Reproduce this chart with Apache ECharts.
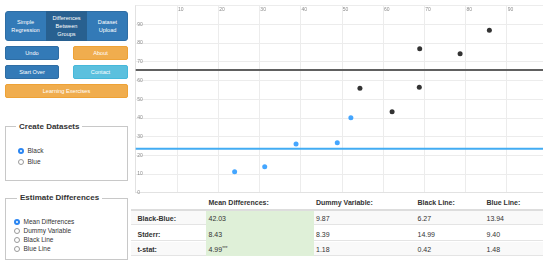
<!DOCTYPE html>
<html>
<head>
<meta charset="utf-8">
<script src="https://cdn.jsdelivr.net/npm/echarts@6/dist/echarts.min.js"></script>
<style>
html,body{margin:0;padding:0;background:#fff;overflow:hidden;width:543px;height:269px;font-family:"Liberation Sans",Arial,Helvetica,sans-serif;}
.abs{position:absolute;box-sizing:border-box;}
.btn{position:absolute;box-sizing:border-box;color:#fff;font-size:5.6px;text-align:center;display:flex;align-items:center;justify-content:center;border-radius:2px;line-height:8px;}
.pri{background:#337ab7;border:1px solid #2e6da4;}
.warn{background:#f0ad4e;border:1px solid #eea236;}
.info{background:#5bc0de;border:1px solid #46b8da;}
.fs{position:absolute;box-sizing:border-box;border:1px solid #c8c8c8;}
.lg{position:absolute;background:#fff;font-weight:bold;font-size:8px;color:#333;padding:0 3px;line-height:10px;}
.rad{position:absolute;width:6px;height:6px;border-radius:50%;box-sizing:border-box;}
.on{background:#2b86f2;}
.on::after{content:"";position:absolute;left:2px;top:2px;width:2px;height:2px;border-radius:50%;background:#fff;}
.off{border:1px solid #9a9a9a;background:#fff;}
.rl{position:absolute;font-size:6.5px;color:#333;line-height:8px;}
.cell{position:absolute;font-size:7px;color:#333;line-height:10px;white-space:nowrap;}
.sup{font-size:4.5px;position:relative;top:-2px;line-height:0;}
</style>
</head>
<body>
<div id="ui"></div>
<div id="chart" class="abs" style="left:130px;top:0px;width:425px;height:196px;"></div>
<div id="tbl"></div>
<script>
// ---- data ----
const blackX = [54.4, 62.2, 68.8, 68.9, 78.7, 85.8];
const blackY = [55.8, 43.3, 56.3, 77.0, 74.3, 86.8];
const blueX = [24.0, 31.3, 38.9, 48.9, 52.2];
const blueY = [11.2, 13.9, 26.0, 26.7, 40.1];
const blackMean = 65.6;
const blueMean = 23.5;
const axisMin = 0, axisMax = 100, axisStep = 10;

const tableHeaders = ['Mean Differences:', 'Dummy Variable:', 'Black Line:', 'Blue Line:'];
const rowLabels = ['Black-Blue:', 'Stderr:', 't-stat:'];
const meanDiffCol = ['42.03', '8.43', '4.99***'];
const dummyCol = ['9.87', '8.39', '1.18'];
const blackLineCol = ['6.27', '14.99', '0.42'];
const blueLineCol = ['13.94', '9.40', '1.48'];

const tabLabels = ['Simple<br>Regression', 'Differences<br>Between<br>Groups', 'Dataset<br>Upload'];
const datasetOptions = ['Black', 'Blue'];
const estimateOptions = ['Mean Differences', 'Dummy Variable', 'Black Line', 'Blue Line'];

// ---- left UI panel ----
const ui = document.getElementById('ui');
let h = '';
const tabL = [5, 46, 87], tabW = [41, 41, 41];
h += '<div class="abs" style="left:5px;top:10.5px;width:123px;height:30.5px;border-radius:3px;background:#337ab7;border:1px solid #2e6da4;"></div>';
tabLabels.forEach((t, i) => {
  const bg = i === 1 ? 'background:#286090;' : '';
  h += '<div class="btn" style="left:' + tabL[i] + 'px;top:10.5px;width:' + tabW[i] + 'px;height:30.5px;border-radius:0;' + bg + '">' + t + '</div>';
});
h += '<div class="btn pri" style="left:5px;top:45.5px;width:54px;height:14.5px;">Undo</div>';
h += '<div class="btn warn" style="left:73px;top:45.5px;width:55px;height:14.5px;">About</div>';
h += '<div class="btn pri" style="left:5px;top:64.5px;width:54px;height:14.5px;">Start Over</div>';
h += '<div class="btn info" style="left:73px;top:64.5px;width:55px;height:14.5px;">Contact</div>';
h += '<div class="btn warn" style="left:5px;top:83.5px;width:123px;height:14.5px;">Learning Exercises</div>';
h += '<div class="fs" style="left:5px;top:126px;width:123px;height:55px;"></div>';
h += '<div class="lg" style="left:16px;top:121.5px;">Create Datasets</div>';
datasetOptions.forEach((t, i) => {
  const y = 151 + i * 11.3;
  h += '<div class="rad ' + (i === 0 ? 'on' : 'off') + '" style="left:18px;top:' + (y - 3) + 'px;"></div>';
  h += '<div class="rl" style="left:27.5px;top:' + (y - 4) + 'px;">' + t + '</div>';
});
h += '<div class="fs" style="left:5px;top:197.5px;width:123px;height:62px;"></div>';
h += '<div class="lg" style="left:17px;top:193px;">Estimate Differences</div>';
estimateOptions.forEach((t, i) => {
  const y = 221.5 + i * 9.3;
  h += '<div class="rad ' + (i === 0 ? 'on' : 'off') + '" style="left:14px;top:' + (y - 3) + 'px;"></div>';
  h += '<div class="rl" style="left:23.5px;top:' + (y - 4) + 'px;">' + t + '</div>';
});
ui.innerHTML = h;

// ---- table ----
const tbl = document.getElementById('tbl');
let t = '';
const colText = [208.5, 316, 417.5, 486.5];
const rowTop = [209.5, 225, 240.5];
const rowH = 15.5;
t += '<div class="abs" style="left:131px;top:208.5px;width:412px;height:2px;background:#ddd;"></div>';
rowTop.forEach((y, r) => {
  const bg = r % 2 === 0 ? '#f9f9f9' : '#fff';
  t += '<div class="abs" style="left:131px;top:' + (y + 1) + 'px;width:412px;height:' + (rowH - 1) + 'px;background:' + bg + ';border-bottom:1px solid #e4e4e4;"></div>';
});
t += '<div class="abs" style="left:206px;top:210.5px;width:108px;height:45.5px;background:#dff0d8;"></div>';
tableHeaders.forEach((s, i) => {
  t += '<div class="cell" style="left:' + colText[i] + 'px;top:197.7px;font-weight:bold;">' + s + '</div>';
});
const cols = [meanDiffCol, dummyCol, blackLineCol, blueLineCol];
rowLabels.forEach((s, r) => {
  const y = rowTop[r] + 4.5;
  t += '<div class="cell" style="left:137.5px;top:' + y + 'px;font-weight:bold;">' + s + '</div>';
  cols.forEach((c, i) => {
    let v = c[r];
    if (v.indexOf('***') >= 0) v = v.replace('***', '<span class="sup">***</span>');
    t += '<div class="cell" style="left:' + colText[i] + 'px;top:' + y + 'px;">' + v + '</div>';
  });
});
tbl.innerHTML = t;

// ---- chart ----
const chart = echarts.init(document.getElementById('chart'), null, {renderer: 'canvas'});
const pairs = (xs, ys) => xs.map((x, i) => [x, ys[i]]);
chart.setOption({
  animation: false,
  grid: {left: 5.7, top: 5.6, width: 412.2, height: 187.1, show: false},
  xAxis: {
    type: 'value', position: 'top', min: axisMin, max: axisMax, interval: axisStep,
    axisLine: {show: true, lineStyle: {color: '#e2e2e2', width: 1}},
    axisTick: {show: false},
    splitLine: {show: true, lineStyle: {color: '#ececec', width: 1}},
    axisLabel: {inside: true, margin: 1.5, fontSize: 5, color: '#8a8a8a', align: 'left', padding: [0, 0, 0, 1], showMinLabel: false, showMaxLabel: false}
  },
  yAxis: {
    type: 'value', min: axisMin, max: axisMax, interval: axisStep,
    axisLine: {show: true, lineStyle: {color: '#e2e2e2', width: 1}},
    axisTick: {show: false},
    splitLine: {show: true, lineStyle: {color: '#ececec', width: 1}},
    axisLabel: {inside: true, margin: 1.5, fontSize: 5, color: '#8a8a8a', showMaxLabel: false}
  },
  series: [
    {type: 'line', data: [[axisMin, blackMean], [axisMax, blackMean]], symbol: 'none', lineStyle: {color: '#606060', width: 2}, silent: true},
    {type: 'line', data: [[axisMin, blueMean], [axisMax, blueMean]], symbol: 'none', lineStyle: {color: '#42acf3', width: 2}, silent: true},
    {type: 'scatter', data: pairs(blackX, blackY), symbolSize: 5, itemStyle: {color: '#000'}},
    {type: 'scatter', data: pairs(blueX, blueY), symbolSize: 5, itemStyle: {color: '#1590ff'}}
  ]
});
</script>
</body>
</html>
